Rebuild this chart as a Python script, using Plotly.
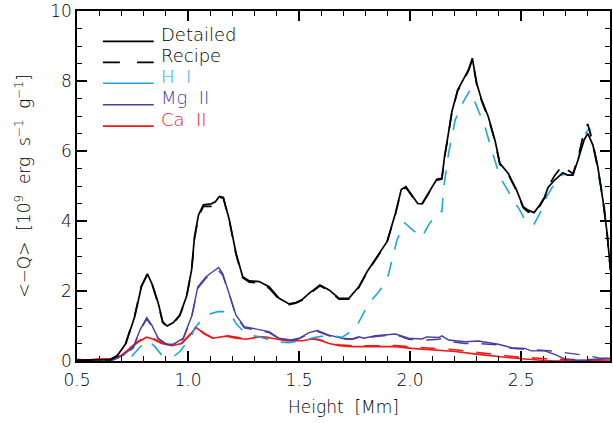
import plotly.graph_objects as go

# ---------------- data ----------------
tot_x = [0.50,0.55,0.60,0.65,0.68,0.72,0.76,0.79,0.817,0.84,0.866,0.886,0.906,0.934,0.963,0.993,1.016,1.029,1.047,1.069,1.104,1.123,1.141,1.159,1.186,1.216,1.246,1.276,1.32,1.365,1.41,1.455,1.485,1.515,1.545,1.594,1.635,1.68,1.724,1.769,1.806,1.851,1.896,1.934,1.96,1.981,2.008,2.034,2.053,2.083,2.12,2.143,2.155,2.17,2.188,2.214,2.24,2.262,2.28,2.30,2.322,2.352,2.382,2.404,2.442,2.479,2.509,2.531,2.558,2.584,2.606,2.621,2.651,2.688,2.711,2.733,2.756,2.783,2.80,2.823,2.845,2.868,2.887,2.902]
tot_detailed = [0.02,0.03,0.05,0.04,0.14,0.5,1.27,2.12,2.49,2.17,1.65,1.12,1.0,1.1,1.31,1.84,2.6,3.55,4.17,4.46,4.49,4.55,4.7,4.67,4.03,3.08,2.41,2.29,2.27,2.12,1.79,1.63,1.67,1.76,1.93,2.17,2.03,1.79,1.79,2.12,2.55,2.98,3.41,4.22,4.9,4.98,4.74,4.5,4.49,4.79,5.19,5.22,5.84,6.41,7.12,7.74,8.03,8.31,8.65,7.93,7.46,6.98,6.31,5.65,5.36,4.89,4.41,4.31,4.24,4.46,4.69,4.96,5.17,5.38,5.31,5.31,5.74,6.31,6.5,6.17,5.55,4.6,3.65,2.6]
tot_recipe = [0.02,0.03,0.05,0.04,0.15,0.52,1.3,2.15,2.47,2.15,1.63,1.1,0.98,1.08,1.3,1.82,2.58,3.5,4.12,4.42,4.42,4.5,4.68,4.65,4.0,3.05,2.38,2.25,2.23,2.08,1.76,1.61,1.65,1.74,1.91,2.15,2.01,1.77,1.77,2.1,2.53,2.96,3.39,4.2,4.88,4.96,4.72,4.48,4.47,4.77,5.17,5.2,5.82,6.38,7.1,7.72,8.0,8.28,8.6,7.9,7.43,6.95,6.28,5.62,5.33,4.86,4.38,4.26,4.21,4.43,4.67,4.98,5.3,5.6,5.45,5.35,5.8,6.55,6.77,6.2,5.55,4.6,3.65,2.6]

hi_x = [0.50,0.60,0.70,0.747,0.78,0.806,0.821,0.851,0.881,0.934,0.963,1.016,1.029,1.081,1.134,1.186,1.216,1.261,1.32,1.395,1.455,1.53,1.567,1.635,1.694,1.754,1.814,1.859,1.896,1.941,1.975,2.008,2.053,2.083,2.128,2.143,2.15,2.173,2.203,2.24,2.27,2.307,2.337,2.367,2.404,2.464,2.494,2.524,2.558,2.584,2.614,2.658,2.688,2.711,2.733,2.756,2.778,2.808,2.823,2.845,2.872,2.897]
hi_recipe = [-0.03,-0.03,-0.02,0.14,0.38,0.55,0.58,0.41,0.17,0.12,0.27,0.71,0.94,1.31,1.41,1.41,1.07,0.77,0.69,0.55,0.52,0.6,0.67,0.74,0.68,0.93,1.65,1.98,2.31,3.46,3.95,3.76,3.53,3.89,4.27,4.27,4.89,5.93,6.89,7.41,7.74,7.17,6.69,6.03,5.27,4.6,4.31,3.95,3.91,4.22,4.69,5.15,5.34,5.31,5.31,5.74,6.41,6.65,6.22,5.41,4.6,2.98]

mg_x = [0.50,0.60,0.65,0.709,0.754,0.784,0.814,0.836,0.866,0.904,0.934,0.978,1.016,1.044,1.081,1.111,1.138,1.156,1.186,1.216,1.253,1.32,1.365,1.41,1.463,1.50,1.545,1.582,1.635,1.694,1.739,1.769,1.791,1.844,1.934,1.993,2.053,2.075,2.128,2.143,2.173,2.248,2.307,2.397,2.457,2.516,2.546,2.606,2.651,2.696,2.75,2.80,2.85,2.90]
mg_detailed = [-0.02,-0.01,0.0,0.17,0.41,0.89,1.24,1.03,0.65,0.48,0.48,0.65,1.27,2.12,2.41,2.55,2.67,2.5,1.93,1.31,0.98,0.9,0.84,0.65,0.6,0.65,0.81,0.87,0.74,0.65,0.63,0.69,0.65,0.72,0.77,0.65,0.63,0.69,0.67,0.72,0.6,0.55,0.57,0.48,0.38,0.36,0.29,0.29,0.19,0.06,0.02,0.03,0.06,0.08]
mg_recipe = [-0.02,-0.01,0.0,0.15,0.38,0.86,1.2,1.0,0.63,0.47,0.47,0.63,1.24,2.08,2.37,2.48,2.58,2.45,1.9,1.28,0.95,0.87,0.81,0.63,0.58,0.63,0.78,0.85,0.72,0.63,0.62,0.67,0.64,0.7,0.75,0.62,0.6,0.6,0.62,0.64,0.56,0.5,0.5,0.46,0.36,0.34,0.32,0.3,0.28,0.24,0.2,0.15,0.09,0.08]

ca_x = [0.50,0.55,0.60,0.65,0.694,0.739,0.777,0.814,0.844,0.881,0.926,0.971,1.008,1.036,1.074,1.111,1.171,1.216,1.261,1.32,1.38,1.44,1.515,1.56,1.59,1.635,1.68,1.739,1.829,1.934,2.008,2.098,2.203,2.307,2.397,2.487,2.576,2.651,2.75,2.85,2.90]
ca_detailed = [0.04,0.03,0.06,0.05,0.14,0.36,0.55,0.68,0.62,0.5,0.44,0.5,0.74,0.96,0.77,0.65,0.71,0.65,0.62,0.69,0.65,0.58,0.58,0.63,0.6,0.5,0.44,0.41,0.41,0.41,0.36,0.31,0.27,0.19,0.12,0.07,0.03,0.0,0.01,0.02,0.03]
ca_recipe = [0.04,0.03,0.06,0.05,0.15,0.38,0.57,0.7,0.64,0.52,0.45,0.51,0.75,0.95,0.79,0.66,0.73,0.67,0.63,0.7,0.66,0.59,0.59,0.64,0.61,0.52,0.46,0.43,0.43,0.44,0.4,0.36,0.32,0.24,0.17,0.11,0.08,0.05,0.04,0.03,0.04]

legend_labels = ["Detailed", "Recipe", "H\u00a0\u00a0I", "Mg\u00a0\u00a0II", "Ca\u00a0\u00a0II"]
x_title = "Height\u00a0\u00a0[Mm]"
y_title = ("&lt;\u2212Q&gt;\u00a0\u00a0[10<sup>9</sup>\u00a0\u00a0erg\u00a0\u00a0s<sup>\u22121</sup>"
           "\u00a0\u00a0g<sup>\u22121</sup>]")

BLACK = "#000000"
CYAN = "#1ea8d8"
PURPLE = "#4a3c9c"
RED = "#f01818"
FONT = "DejaVu Sans"
WEIGHT = 200
DASH = "15px,13px"

fig = go.Figure()

def add(x, y, color, dash, width):
    fig.add_trace(go.Scatter(x=x, y=y, mode="lines", showlegend=False,
                             line=dict(color=color, width=width, dash=dash),
                             hoverinfo="skip"))

add(ca_x, ca_detailed, RED, "solid", 1.6)
add(ca_x, ca_recipe, RED, DASH, 1.6)
add(mg_x, mg_detailed, PURPLE, "solid", 1.4)
add(mg_x, mg_recipe, PURPLE, DASH, 1.4)
add(hi_x, hi_recipe, CYAN, DASH, 1.6)
add(tot_x, tot_detailed, BLACK, "solid", 1.7)
add(tot_x, tot_recipe, BLACK, DASH, 1.7)

# ---------------- legend (drawn in paper coordinates) ----------------
L, R, T, B = 77, 1, 10, 62
W, H = 613, 423
pw, ph = W - L - R, H - T - B
def px(xp): return (xp - L) / pw
def py(yp): return (H - B - yp) / ph

leg_colors = [BLACK, BLACK, CYAN, PURPLE, RED]
leg_dash = ["solid", "17px,17px", "solid", "solid", "solid"]
leg_y = [40.5, 61.5, 82.5, 104, 125.5]
for lab, c, d, yy in zip(legend_labels, leg_colors, leg_dash, leg_y):
    fig.add_shape(type="line", xref="paper", yref="paper",
                  x0=px(103), x1=px(154), y0=py(yy), y1=py(yy),
                  line=dict(color=c, width=1.6, dash=d))
    fig.add_annotation(xref="paper", yref="paper", x=px(159), y=py(yy - 7),
                       xanchor="left", yanchor="middle", showarrow=False,
                       text=lab, font=dict(family=FONT, size=18, color=c, weight=WEIGHT))

axis_common = dict(showline=True, linecolor="black", linewidth=1.5, mirror="allticks",
                   ticks="inside", ticklen=10, tickwidth=1.5, tickcolor="black",
                   showgrid=False, zeroline=False, ticklabeloverflow="allow",
                   tickfont=dict(family=FONT, size=17, color="black", weight=WEIGHT))

fig.update_xaxes(range=[0.5, 2.9], tick0=0.5, dtick=0.5, tickformat=".1f",
                 ticklabelstandoff=3,
                 minor=dict(dtick=0.1, ticks="inside", ticklen=5, tickwidth=1.2, tickcolor="black"),
                 title=dict(text=x_title, font=dict(family=FONT, size=17, weight=WEIGHT), standoff=12),
                 **axis_common)
fig.update_yaxes(range=[0, 10], tick0=0, dtick=2,
                 minor=dict(dtick=0.5, ticks="inside", ticklen=5, tickwidth=1.2, tickcolor="black"),
                 title=dict(text=y_title, font=dict(family=FONT, size=17, weight=WEIGHT), standoff=15),
                 **axis_common)

fig.update_layout(width=W, height=H, margin=dict(l=L, r=R, t=T, b=B),
                  paper_bgcolor="white", plot_bgcolor="white",
                  font=dict(family=FONT, color="black", weight=WEIGHT))

fig.write_html("out.html")
